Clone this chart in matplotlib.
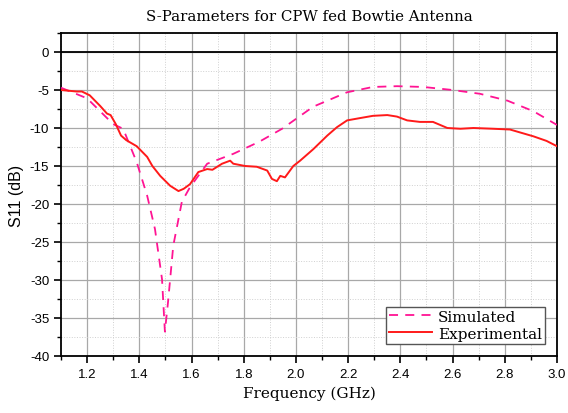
import matplotlib
matplotlib.use('Agg')
import matplotlib.pyplot as plt
from matplotlib.ticker import MultipleLocator

plt.rcParams['axes.unicode_minus'] = False

# simulated S11 (dashed)
sim_f = [1.10, 1.20, 1.30, 1.338, 1.39, 1.43, 1.46, 1.487, 1.498, 1.51, 1.53,
         1.563, 1.594, 1.66, 1.76, 1.86, 1.947, 2.066, 2.196, 2.295, 2.387,
         2.487, 2.60, 2.705, 2.81, 2.91, 3.0]
sim_db = [-4.7, -6.1, -9.5, -10.1, -14.5, -18.9, -23.3, -29.9, -36.8, -32.9, -25.5,
          -19.7, -17.8, -14.7, -13.4, -11.8, -10.1, -7.2, -5.3, -4.6, -4.5,
          -4.6, -5.0, -5.5, -6.4, -7.8, -9.6]

# measured S11 (solid)
exp_f = [1.10, 1.13, 1.16, 1.18, 1.21, 1.25, 1.276, 1.29, 1.31, 1.33, 1.35, 1.39,
         1.43, 1.45, 1.48, 1.518, 1.55, 1.57, 1.594, 1.626, 1.66, 1.68, 1.717,
         1.748, 1.76, 1.805, 1.85, 1.89, 1.908, 1.927, 1.94, 1.958, 1.99, 2.016,
         2.066, 2.12, 2.157, 2.196, 2.245, 2.295, 2.35, 2.387, 2.426, 2.475,
         2.525, 2.58, 2.63, 2.68, 2.755, 2.82, 2.86, 2.91, 2.96, 3.0]
exp_db = [-5.0, -5.1, -5.2, -5.2, -5.7, -7.1, -8.1, -8.3, -9.5, -11.0, -11.6, -12.4,
          -13.8, -15.0, -16.3, -17.6, -18.3, -18.0, -17.4, -15.8, -15.4, -15.5, -14.7,
          -14.3, -14.7, -15.0, -15.1, -15.6, -16.7, -17.0, -16.3, -16.5, -15.0, -14.3,
          -12.8, -11.0, -9.9, -9.0, -8.7, -8.4, -8.3, -8.5, -9.0, -9.2,
          -9.2, -10.0, -10.1, -10.0, -10.1, -10.2, -10.6, -11.1, -11.7, -12.4]

fig = plt.figure(figsize=(5.68, 4.14), dpi=100)
ax = fig.add_axes([0.1074, 0.1377, 0.8732, 0.7802])

ax.grid(which='major', color='#a8a8a8', lw=0.9, ls='-')
ax.grid(which='minor', color='#d0d0d0', lw=0.7, ls=':')
ax.set_axisbelow(True)
ax.axhline(0, color='black', lw=1.3, zorder=2)

ax.plot(sim_f, sim_db, color='#ff1493', ls=(0, (5, 4)), lw=1.3, label='Simulated', zorder=3)
ax.plot(exp_f, exp_db, color='#ff1a1a', lw=1.4, label='Experimental', zorder=4)

ax.set_xlim(1.1, 3.0)
ax.set_ylim(-40, 2.5)
ax.xaxis.set_major_locator(MultipleLocator(0.2))
ax.xaxis.set_minor_locator(MultipleLocator(0.1))
ax.yaxis.set_major_locator(MultipleLocator(5))
ax.yaxis.set_minor_locator(MultipleLocator(2.5))
ax.xaxis.set_major_formatter(plt.FuncFormatter(lambda v, p: '%.1f' % v))
ax.yaxis.set_major_formatter(plt.FuncFormatter(lambda v, p: '%d' % round(v)))

ax.tick_params(which='both', direction='out', colors='black', labelsize=9.5)
ax.tick_params(which='major', length=5, width=1.2)
ax.tick_params(which='minor', length=3, width=1.0)
for lab in ax.get_xticklabels() + ax.get_yticklabels():
    lab.set_fontfamily('Liberation Sans')
for s in ax.spines.values():
    s.set_linewidth(1.3)

ax.set_title('S-Parameters for CPW fed Bowtie Antenna', family='DejaVu Serif',
             fontsize=10.8, pad=9)
ax.set_xlabel('Frequency (GHz)', family='DejaVu Serif', fontsize=11)
ax.set_ylabel('S11 (dB)', family='Liberation Sans', fontsize=11.5)

leg = ax.legend(loc='lower right', prop={'family': 'DejaVu Serif', 'size': 11},
                fancybox=False, edgecolor='#555555', framealpha=1,
                handlelength=2.8, borderpad=0.2, labelspacing=0.2,
                handletextpad=0.4, borderaxespad=0.8)
leg.get_frame().set_linewidth(1.0)

fig.savefig('out.png', dpi=100)
